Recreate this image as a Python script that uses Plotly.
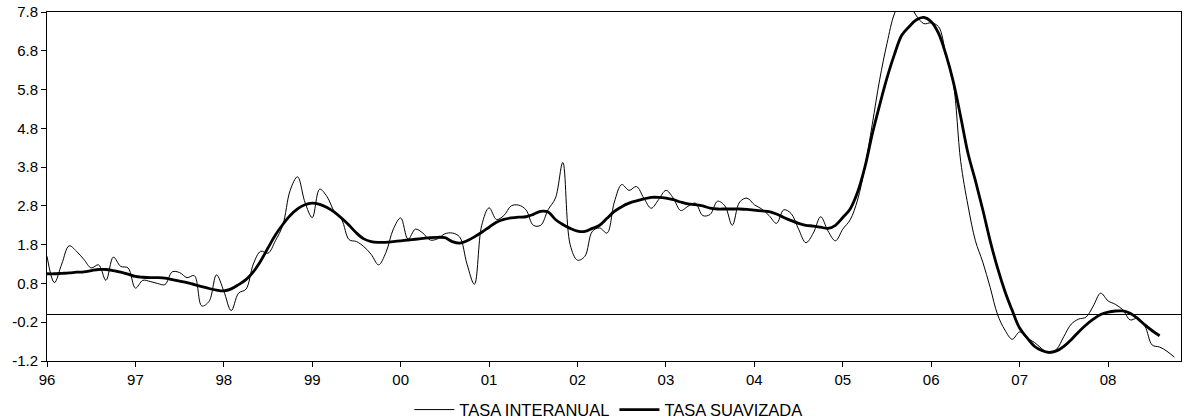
import plotly.graph_objects as go

# Monthly data, Jan 1996 onwards (month index 0 = Jan 96)
tasa_interanual = [
    1.50, 0.82, 1.30, 1.77, 1.63, 1.42, 1.20, 1.28, 0.88, 1.48, 1.24, 1.20,   # 96
    0.68, 0.88, 0.85, 0.80, 0.77, 1.10, 1.08, 0.95, 1.00, 0.22, 0.34, 1.02,   # 97
    0.60, 0.10, 0.55, 0.65, 1.30, 1.63, 1.58, 1.90, 2.30, 3.20, 3.55, 2.90,   # 98
    2.50, 3.23, 3.04, 2.65, 2.44, 1.93, 1.88, 1.75, 1.55, 1.28, 1.60, 2.20,   # 99
    2.49, 1.94, 2.20, 2.10, 1.92, 1.95, 2.08, 2.10, 2.00, 1.30, 0.78, 2.30,   # 00
    2.75, 2.45, 2.55, 2.80, 2.82, 2.70, 2.30, 2.30, 2.70, 3.00, 3.92, 1.80,   # 01
    1.40, 1.50, 2.14, 2.23, 2.10, 2.90, 3.35, 3.20, 3.30, 3.00, 2.74, 2.96,   # 02
    3.20, 3.00, 2.68, 2.79, 2.87, 2.55, 2.58, 2.92, 2.80, 2.30, 2.90, 3.00,   # 03
    2.83, 2.72, 2.55, 2.35, 2.70, 2.60, 2.20, 1.85, 2.10, 2.52, 2.15, 1.90,   # 04
    2.20, 2.44, 2.95, 3.80, 4.90, 6.05, 6.99, 7.75, 8.10, 8.00, 7.70, 7.50,   # 05
    7.52, 7.42, 6.70, 5.96, 3.95, 2.80, 1.90, 1.35, 0.70, 0.00, -0.40, -0.64, # 06
    -0.45, -0.61, -0.72, -0.88, -1.00, -0.90, -0.57, -0.25, -0.12, -0.07, 0.22, 0.55,  # 07
    0.35, 0.26, 0.12, -0.14, -0.10, -0.30, -0.79, -0.84, -0.95, -1.10,       # 08
]

tasa_suavizada = [
    1.05, 1.05, 1.06, 1.07, 1.09, 1.10, 1.13, 1.16, 1.16, 1.13, 1.09, 1.04,
    0.98, 0.96, 0.95, 0.95, 0.94, 0.90, 0.86, 0.82, 0.77, 0.72, 0.67, 0.63,
    0.61, 0.66, 0.77, 0.90, 1.10, 1.38, 1.72, 2.05, 2.32, 2.55, 2.72, 2.83,
    2.87, 2.84, 2.76, 2.64, 2.48, 2.30, 2.10, 1.95, 1.88, 1.86, 1.86, 1.88,
    1.90, 1.92, 1.94, 1.96, 1.98, 1.99, 1.98, 1.88, 1.84, 1.90, 2.00, 2.12,
    2.25, 2.38, 2.45, 2.49, 2.51, 2.52, 2.58, 2.66, 2.64, 2.45, 2.32, 2.22,
    2.15, 2.14, 2.22, 2.30, 2.48, 2.66, 2.78, 2.87, 2.93, 2.98, 3.02, 3.02,
    3.00, 2.96, 2.90, 2.85, 2.83, 2.80, 2.74, 2.72, 2.72, 2.72, 2.72, 2.71,
    2.69, 2.67, 2.65, 2.59, 2.50, 2.42, 2.35, 2.30, 2.28, 2.25, 2.22, 2.30,
    2.50, 2.72, 3.15, 3.80, 4.65, 5.40, 6.10, 6.70, 7.20, 7.42, 7.60, 7.66,
    7.55, 7.25, 6.70, 6.00, 5.10, 4.15, 3.45, 2.70, 1.90, 1.20, 0.60, 0.10,
    -0.35, -0.60, -0.82, -0.93, -0.98, -0.94, -0.82, -0.65, -0.45, -0.27, -0.12, 0.00,
    0.06, 0.09, 0.09, 0.03, -0.10, -0.27, -0.42, -0.55,
]

year_labels = ["96", "97", "98", "99", "00", "01", "02", "03", "04", "05", "06", "07", "08"]
y_ticks = [-1.2, -0.2, 0.8, 1.8, 2.8, 3.8, 4.8, 5.8, 6.8, 7.8]

x_raw = list(range(len(tasa_interanual)))
x_smooth = list(range(len(tasa_suavizada)))
year_ticks = [12 * i for i in range(len(year_labels))]

fig = go.Figure()
fig.add_trace(go.Scatter(
    x=x_raw, y=tasa_interanual, mode="lines", name="TASA INTERANUAL",
    line=dict(color="black", width=1, shape="spline", smoothing=1.0),
))
fig.add_trace(go.Scatter(
    x=x_smooth, y=tasa_suavizada, mode="lines", name="TASA SUAVIZADA",
    line=dict(color="black", width=2.8, shape="spline", smoothing=1.0),
))

fig.update_layout(
    width=1184, height=420,
    margin=dict(l=47, r=3, t=12, b=59, autoexpand=False),
    paper_bgcolor="white", plot_bgcolor="white",
    font=dict(family="Liberation Sans, Arial, sans-serif", size=15, color="black"),
    showlegend=True,
    legend=dict(orientation="h", x=0.495, xanchor="center", y=-0.14, yanchor="middle",
                font=dict(size=16.5), itemwidth=40, tracegroupgap=0),
)
fig.update_xaxes(
    range=[0, 153.9], tickvals=year_ticks, ticktext=year_labels,
    ticks="outside", ticklen=5, tickcolor="black", tickwidth=1,
    showline=True, linecolor="black", linewidth=1, mirror=True,
    showgrid=False, zeroline=False, automargin=False,
    tickfont=dict(size=15),
)
fig.update_yaxes(
    range=[-1.2, 7.8], tickvals=y_ticks, ticktext=[f"{v:.1f}" for v in y_ticks],
    ticks="outside", ticklen=5, tickcolor="black", tickwidth=1,
    showline=True, linecolor="black", linewidth=1, mirror=True,
    showgrid=False, zeroline=True, zerolinecolor="black", zerolinewidth=1,
    automargin=False, tickfont=dict(size=15),
)

fig.write_html(
    "out.html",
    config={"displayModeBar": False},
    post_script="document.body.style.margin='0';document.body.style.overflow='hidden';",
)
